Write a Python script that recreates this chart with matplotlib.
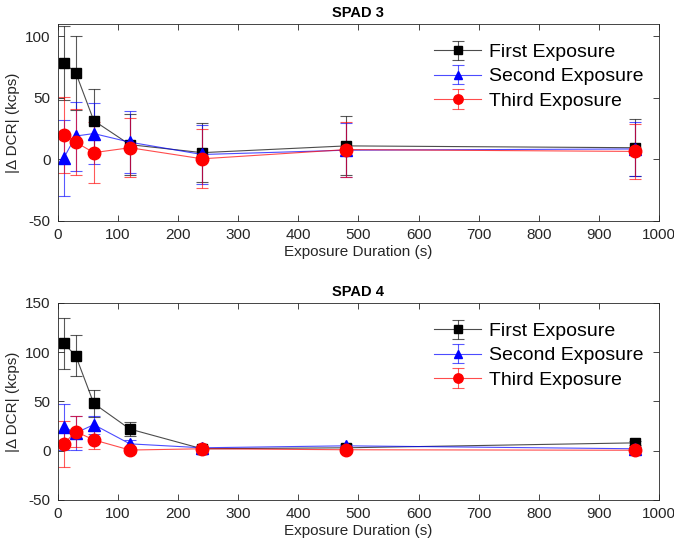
import matplotlib

matplotlib.use("Agg")
import matplotlib.pyplot as plt
from matplotlib.colors import to_rgba

plt.rcParams["font.family"] = ["Liberation Sans", "DejaVu Sans"]
plt.rcParams["axes.unicode_minus"] = False

durations = [10, 30, 60, 120, 240, 480, 960]
series_labels = ["First Exposure", "Second Exposure", "Third Exposure"]

# SPAD 3: |delta DCR| (kcps) and error bars
spad3_first = [78.5, 70.5, 31.5, 12, 5.5, 11, 9.5]
spad3_first_err = [30, 30, 26, 25, 24, 24, 23]
spad3_second = [1, 19, 21, 14, 4, 7.5, 8.5]
spad3_second_err = [31, 28, 25, 25, 24, 22, 22]
spad3_third = [20, 14, 5.5, 9.5, 0.5, 8, 6.5]
spad3_third_err = [31, 27, 25, 24, 24, 22, 22]

# SPAD 4
spad4_first = [109, 96.5, 48, 22, 2, 3, 8]
spad4_first_err = [26, 21, 14, 7, 2, 2, 2]
spad4_second = [24, 18, 26.5, 7, 3, 5, 2]
spad4_second_err = [23, 17, 9, 4, 2, 2, 2]
spad4_third = [7, 19.5, 11, 0.7, 2, 1, 0.5]
spad4_third_err = [23, 16, 9, 3, 2, 2, 2]

colors = ["#000000", "#0000ff", "#ff0000"]
markers = ["s", "^", "o"]
msizes = [7, 8, 9]
AX_COLOR = "#262626"


def draw_panel(ax, title, ys, errs, ylim, yticks):
    for y, e, c, m, ms, lab in zip(ys, errs, colors, markers, msizes, series_labels):
        ax.errorbar(durations, y, yerr=e, color=to_rgba(c, 0.7), ecolor=to_rgba(c, 0.65),
                    marker=m, markersize=ms, markerfacecolor=c, markeredgecolor=c,
                    linewidth=0.8, elinewidth=0.8, capsize=4, capthick=0.8, label=lab)
    ax.set_xlim(0, 1000)
    ax.set_ylim(*ylim)
    ax.set_xticks(range(0, 1001, 100))
    ax.set_yticks(yticks)
    ax.set_xlabel("Exposure Duration (s)", fontsize=11, color=AX_COLOR, labelpad=2)
    ax.set_ylabel("|\u0394 DCR| (kcps)", fontsize=11, color=AX_COLOR, labelpad=4)
    ax.set_title(title, fontsize=10.5, fontweight="bold", pad=5)
    ax.tick_params(direction="in", top=True, right=True, labelsize=11,
                   colors=AX_COLOR, length=4, width=0.6, pad=5)
    for sp in ax.spines.values():
        sp.set_color(AX_COLOR)
        sp.set_linewidth(0.6)
    ax.legend(loc="upper right", frameon=False, fontsize=14, markerscale=0.75,
              handlelength=2.4, handletextpad=0.4, labelspacing=0.35,
              borderaxespad=0.6, bbox_to_anchor=(1.006, 1.0))


fig = plt.figure(figsize=(6.74, 5.42), dpi=100)
ax1 = fig.add_axes([0.0856, 0.5923, 0.8924, 0.3634])
ax2 = fig.add_axes([0.0856, 0.0775, 0.8924, 0.3635])

draw_panel(ax1, "SPAD 3", [spad3_first, spad3_second, spad3_third],
           [spad3_first_err, spad3_second_err, spad3_third_err], (-50, 110), [-50, 0, 50, 100])
draw_panel(ax2, "SPAD 4", [spad4_first, spad4_second, spad4_third],
           [spad4_first_err, spad4_second_err, spad4_third_err], (-50, 150), [-50, 0, 50, 100, 150])

fig.savefig("out.png", dpi=100)
